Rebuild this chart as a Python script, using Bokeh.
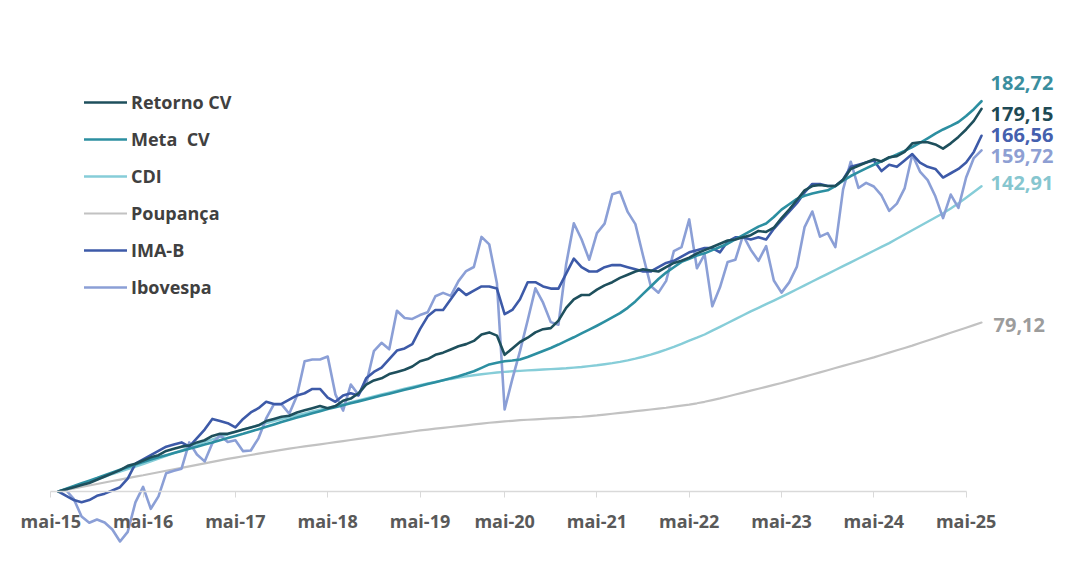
from bokeh.plotting import figure
from bokeh.models import Legend, LegendItem, FixedTicker, ColumnDataSource
from bokeh.core.properties import value
from bokeh.embed import file_html
from bokeh.resources import INLINE

# month index 0 = mai-15 ... 120 = mai-25
months = list(range(121))
tick_labels = ["mai-15", "mai-16", "mai-17", "mai-18", "mai-19", "mai-20",
               "mai-21", "mai-22", "mai-23", "mai-24", "mai-25"]

retorno_cv = [0, 1, 2, 3, 4, 5.5, 7, 8.5, 10, 12,
              13, 14.5, 16, 17, 19, 20, 21, 21.5, 23, 24,
              26, 27, 27, 28, 29, 30, 31, 33, 34, 35,
              35.5, 37, 38, 39, 40, 39, 40, 42.5, 43.5, 46,
              50, 52, 53, 55, 56, 57, 58.5, 61, 62, 64,
              65, 66.5, 68, 69, 70.5, 73.5, 74.5, 73, 64, 67,
              70, 72, 74.5, 76, 76.5, 80, 86, 90, 92, 92,
              94.5, 96.5, 98, 100, 101.5, 103, 104, 103.5, 103, 105,
              107, 108, 109.5, 111.5, 113, 114.5, 116, 117.5, 118, 119,
              120, 122, 121.5, 123.5, 128, 132, 136.5, 141, 143, 143.5,
              143, 143, 146, 151, 152.5, 154, 155.5, 154.5, 156.5, 157,
              159, 163, 163.5, 163.5, 162.5, 160.5, 163, 166, 169.5, 173.5,
              179.15]

meta_cv = [0, 1.3, 2.6, 3.9, 5.1, 6.3, 7.6, 8.9, 10.2, 11.4, 12.6, 13.8, 15.0,
           16.0, 17.0, 18.0, 19.0, 20.0, 21.0, 22.0, 23.0, 24.0, 25.0, 26.0, 27.0,
           28.1, 29.2, 30.3, 31.4, 32.5, 33.6, 34.6, 35.6, 36.6, 37.6, 38.6, 39.5,
           40.4, 41.3, 42.2, 43.1, 44, 44.9, 45.8, 46.7, 47.6, 48.5, 49.4, 50.3,
           51.2, 52.1, 53, 54, 55.1, 56.3, 57.9, 59.5,
           60.3, 61, 61.3, 61.8, 63.0, 64.4, 65.8, 67.2, 68.8, 70.5, 72.2, 74.0,
           75.8, 77.6, 79.5, 81.5,
           83.5, 86, 89, 92.5, 96, 99.5, 102.5, 105, 107.5, 109, 110.5, 111.5,
           113, 114.5, 116, 118, 120, 122, 124, 125.5,
           128.5, 132, 134.5, 137, 138.5, 139.5, 140.3, 141, 143, 145.5, 147.7,
           149.5, 151.3, 153, 154.6, 156.2, 157.8, 159.5, 161.3, 163.2, 165.3,
           167.5, 169.5, 171.2, 173, 175.8, 179, 182.72]

cdi = [0, 1.1, 2.3, 3.5, 4.6, 5.7, 6.9, 8.2, 9.3, 10.5, 11.6, 12.8, 14.1,
       15.4, 16.7, 18.0, 19.3, 20.6, 21.9, 23.2, 24.4, 25.6, 26.8, 27.9, 29.0,
       30.0, 31.0, 32.0, 33.0, 33.9, 34.8, 35.7, 36.6, 37.5, 38.3, 39.1, 40.0,
       40.9, 41.8, 42.7, 43.6, 44.5, 45.4, 46.3, 47.2, 48.1, 49.0, 49.8, 50.6,
       51.3, 52.0, 52.7, 53.3, 53.9, 54.4, 54.9, 55.3, 55.7, 56.0, 56.3, 56.5,
       56.7, 56.9, 57.1, 57.3, 57.5, 57.7, 58.0, 58.3, 58.7, 59.1, 59.6, 60.1,
       60.7, 61.4, 62.2, 63.1, 64.1, 65.2, 66.4, 67.7, 69.1, 70.6, 72.0, 73.5,
       75.3, 77.1, 78.9, 80.7, 82.5, 84.3, 86.0, 87.7, 89.4, 91.1, 92.9, 94.7,
       96.5, 98.3, 100.1, 101.9, 103.7, 105.5, 107.3, 109.1, 110.9, 112.7, 114.5, 116.3,
       118.3, 120.3, 122.3, 124.3, 126.3, 128.3, 130.3, 132.5, 134.9, 137.5, 140.2, 142.91]

poupanca = [0, 0.7, 1.4, 2.1, 2.8, 3.5, 4.2, 4.9, 5.6, 6.3, 7.0, 7.6, 8.3,
            9.0, 9.7, 10.4, 11.1, 11.8, 12.5, 13.2, 13.9, 14.6, 15.3, 15.9, 16.5,
            17.1, 17.7, 18.3, 18.9, 19.5, 20.1, 20.6, 21.1, 21.6, 22.1, 22.6, 23.1,
            23.6, 24.1, 24.6, 25.1, 25.6, 26.1, 26.6, 27.1, 27.6, 28.1, 28.6, 29.0,
            29.4, 29.8, 30.2, 30.6, 31.0, 31.4, 31.8, 32.2, 32.5, 32.8, 33.1, 33.4,
            33.6, 33.8, 34.0, 34.2, 34.4, 34.6, 34.8, 35.0, 35.3, 35.6, 36.0, 36.4,
            36.8, 37.2, 37.6, 38.0, 38.4, 38.8, 39.2, 39.7, 40.2, 40.7, 41.3, 42.0,
            42.8, 43.6, 44.5, 45.4, 46.3, 47.2, 48.1, 49.0, 49.9, 50.8, 51.8, 52.8,
            53.8, 54.8, 55.8, 56.8, 57.8, 58.8, 59.8, 60.8, 61.8, 62.8, 63.9, 65.0,
            66.1, 67.2, 68.3, 69.5, 70.7, 71.9, 73.1, 74.3, 75.5, 76.7, 77.9, 79.12]

ima_b = [0, -2, -4, -5, -4, -2, -1, 0.5, 2, 6,
         13, 15, 17, 19, 21, 22, 23, 21, 25, 29,
         34, 33, 32, 30, 34, 37, 39, 42, 41, 41,
         43, 45, 46, 48, 48, 44, 42, 45, 46, 45,
         53, 56, 58, 62, 66, 67, 69, 76, 82, 85,
         85, 90, 95, 92, 94, 96, 96, 95, 83, 85,
         90, 98, 98, 96, 95, 95, 102, 109, 105, 103,
         103, 105, 106, 106, 105, 104, 103, 103, 105, 107,
         108, 110, 112, 113, 114, 114, 112, 117, 119, 119,
         118, 119, 118, 123, 127, 131, 135, 140, 144, 144,
         143, 143, 146, 152, 153, 154, 155, 150, 153, 152,
         155, 158, 154, 152, 151, 147, 149, 151, 154, 159,
         166.56]

ibovespa = [0, 0.6, -3.6, -11.7, -14.6, -13.1, -14.5, -17.8, -23.4, -18.9,
            -5.1, 2.2, -8.1, -2.3, 8.6, 9.7, 10.7, 23.0, 17.3, 14.1,
            22.6, 26.3, 23.2, 24.0, 18.9, 19.2, 24.9, 34.2, 40.8, 40.8,
            36.4, 44.8, 61.0, 61.8, 61.8, 63.2, 45.5, 37.9, 50.1, 45.3,
            50.4, 65.7, 69.6, 66.6, 84.6, 81.2, 80.8, 82.6, 83.9, 91.4,
            93.0, 91.6, 98.5, 103.2, 105.1, 119.2, 115.7, 97.5, 38.4, 52.6,
            65.7, 80.2, 95.1, 88.4, 79.3, 78.1, 106.4, 125.6, 118.1, 108.5,
            121.0, 125.4, 139.2, 140.3, 130.9, 125.2, 110.4, 96.2, 93.1, 98.6,
            112.5, 114.4, 127.4, 104.5, 111.0, 86.7, 95.6, 107.5, 108.5, 119.9,
            113.2, 108.0, 114.9, 98.8, 93.1, 97.9, 105.3, 123.8, 131.1, 119.3,
            121.0, 114.4, 141.3, 154.4, 142.1, 144.5, 142.8, 138.6, 131.4, 134.8,
            141.9, 157.8, 149.8, 145.8, 138.2, 128.0, 139.0, 132.8, 147.0, 156.1,
            159.72]

names = ["Retorno CV", "Meta  CV", "CDI", "Poupança", "IMA-B", "Ibovespa"]
series = [retorno_cv, meta_cv, cdi, poupanca, ima_b, ibovespa]
line_colors = ["#1E4F5C", "#2C8FA1", "#86CDD8", "#C2C2C2", "#3D5AA8", "#8B9FD6"]
label_colors = ["#1E4A55", "#3A8E9E", "#86C6CF", "#9C9C9C", "#4560AE", "#8E9FD3"]
line_widths = [2.6, 2.6, 2.4, 2.2, 2.6, 2.6]

p = figure(width=1057, height=560, x_range=(-7.28, 129.88), y_range=(-32.3, 228.94),
           output_backend="svg", toolbar_location=None, y_axis_location=None,
           min_border_left=2, min_border_right=0, min_border_top=2, min_border_bottom=0)
p.outline_line_color = None
p.xgrid.visible = False
p.ygrid.visible = False
p.background_fill_color = "white"
p.border_fill_color = "white"

renderers = {}
draw_order = [3, 2, 5, 4, 1, 0]
for i in draw_order:
    r = p.line(months, series[i], line_color=line_colors[i], line_width=line_widths[i],
               line_join="round", line_cap="round")
    renderers[i] = r

legend = Legend(items=[LegendItem(label=names[i], renderers=[renderers[i]]) for i in range(6)],
                location=(82, 261))
legend.background_fill_alpha = 0
legend.border_line_alpha = 0
legend.glyph_width = 43
legend.glyph_height = 20
legend.label_height = 20
legend.spacing = 13
legend.padding = 0
legend.margin = 0
legend.label_standoff = 4
legend.label_text_font = "Open Sans"
legend.label_text_font_style = "bold"
legend.label_text_font_size = "18px"
legend.label_text_color = "#404040"
p.add_layout(legend)

# x axis at y = 0
tick_pos = [round(-1 + 11.89 * k) for k in range(len(tick_labels))]
ax = p.xaxis[0]
ax.fixed_location = 0
ax.ticker = FixedTicker(ticks=tick_pos)
ax.major_label_overrides = {t: l for t, l in zip(tick_pos, tick_labels)}
ax.bounds = (tick_pos[0], tick_pos[-1])
ax.axis_line_color = "#D9D9D9"
ax.axis_line_width = 1.5
ax.major_tick_line_color = "#D9D9D9"
ax.major_tick_out = 6
ax.major_tick_in = 0
ax.minor_tick_line_color = None
ax.major_label_text_font = "Open Sans"
ax.major_label_text_font_style = "bold"
ax.major_label_text_font_size = "18px"
ax.major_label_text_color = "#595959"
ax.major_label_standoff = 11

# end-of-line value labels
end_vals = [s[-1] for s in series]
lab_src = ColumnDataSource(dict(
    x=[months[-1]] * 6,
    y=end_vals,
    text=[f"{v:.2f}".replace(".", ",") for v in end_vals],
    color=label_colors,
    xo=[9, 9, 9, 12, 9, 9],
    yo=[5, -18, -3, 2, -1, 6],
))
p.text(x="x", y="y", text="text", text_color="color", x_offset="xo", y_offset="yo",
       source=lab_src, text_baseline="middle", text_align="left",
       text_font=value("Open Sans"), text_font_style="bold", text_font_size="20px")

open("out.html", "w").write(file_html(p, INLINE))
